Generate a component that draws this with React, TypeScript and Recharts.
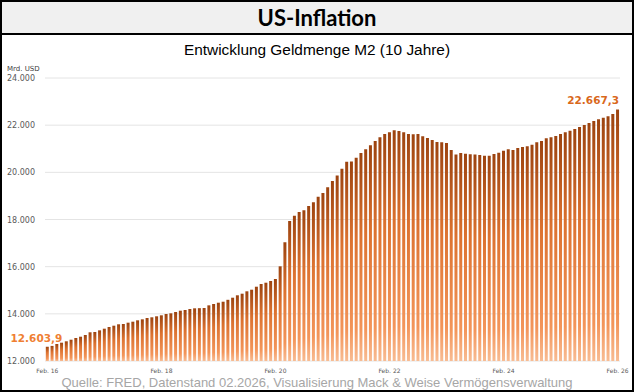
import React from 'react'
import { BarChart, Bar, XAxis, YAxis, CartesianGrid, LabelList } from 'recharts'

// Geldmenge M2 in Mrd. USD, monatlich, Feb. 2016 bis Feb. 2026
const m2_2016 = [12603.9, 12640, 12720, 12776, 12835, 12903, 12975, 13030, 13102, 13217, 13230] // Feb–Dez
const m2_2017 = [13300, 13370, 13442, 13497, 13556, 13570, 13625, 13667, 13725, 13767, 13823, 13853]
const m2_2018 = [13895, 13937, 13993, 14022, 14078, 14133, 14162, 14205, 14234, 14240, 14247, 14360]
const m2_2019 = [14417, 14472, 14514, 14595, 14684, 14786, 14854, 14955, 15023, 15150, 15265, 15320]
const m2_2020 = [15392, 15477, 16015, 17033, 17936, 18161, 18318, 18390, 18572, 18729, 18966, 19123]
const m2_2021 = [19365, 19632, 19865, 20154, 20450, 20460, 20620, 20819, 20976, 21146, 21328, 21485]
const m2_2022 = [21625, 21697, 21782, 21752, 21697, 21625, 21620, 21625, 21527, 21455, 21370, 21286]
const m2_2023 = [21273, 21243, 20946, 20756, 20819, 20790, 20764, 20760, 20734, 20705, 20700, 20777]
const m2_2024 = [20832, 20917, 20976, 20946, 21031, 21074, 21103, 21171, 21273, 21328, 21442, 21485]
const m2_2025 = [21540, 21625, 21697, 21765, 21837, 21922, 22006, 22091, 22176, 22248, 22316, 22375]
const m2_2026 = [22473, 22667.3] // Jan–Feb

const monthNames = ['Jan.', 'Feb.', 'Mär.', 'Apr.', 'Mai', 'Jun.', 'Jul.', 'Aug.', 'Sep.', 'Okt.', 'Nov.', 'Dez.']
const xTickLabels = ['Feb. 16', 'Feb. 18', 'Feb. 20', 'Feb. 22', 'Feb. 24', 'Feb. 26']
const yTicks = [12000, 14000, 16000, 18000, 20000, 22000, 24000]

const values = [
  ...m2_2016, ...m2_2017, ...m2_2018, ...m2_2019, ...m2_2020, ...m2_2021,
  ...m2_2022, ...m2_2023, ...m2_2024, ...m2_2025, ...m2_2026,
]

// Monatsachse ab Feb. 2016
const data = values.map((m2, i) => {
  const mIdx = (1 + i) % 12
  const year = 16 + Math.floor((1 + i) / 12)
  return { monat: `${monthNames[mIdx]} ${year}`, m2 }
})

const fmtNum = (v: number, dec = 0) =>
  v.toLocaleString('de-DE', { minimumFractionDigits: dec, maximumFractionDigits: dec })

const YTick = (props: any) => {
  const { y, payload } = props
  return (
    <text x={7} y={y} dy={3} textAnchor="start" fontSize={8} fill="#595959" fontFamily="DejaVu Sans">
      {fmtNum(payload.value)}
    </text>
  )
}

const XTick = (props: any) => {
  const { x, y, payload } = props
  return (
    <text x={x} y={y} dy={4} textAnchor="middle" fontSize={6} fill="#595959" fontFamily="DejaVu Sans">
      {payload.value}
    </text>
  )
}

const ValueLabel = (props: any) => {
  const { x, y, width, value, index } = props
  const last = values.length - 1
  if (index !== 0 && index !== last) return null
  const ax = index === 0 ? x + width / 2 + 15 : x + width
  return (
    <text
      x={ax}
      y={y - 8}
      textAnchor="end"
      dominantBaseline="middle"
      fontSize={10.5}
      fontWeight="bold"
      fontFamily="DejaVu Sans"
      fill={index === 0 ? '#ef7f33' : '#d9681c'}
    >
      {fmtNum(value, 1)}
    </text>
  )
}

export default function App() {
  return (
    <div
      style={{
        position: 'absolute',
        top: 0,
        left: 0,
        width: 634,
        height: 392,
        boxSizing: 'border-box',
        border: '2px solid #000',
        background: '#fff',
        overflow: 'hidden',
      }}
    >
      <div
        style={{
          height: 31,
          background: '#f0f0f0',
          borderBottom: '2px solid #000',
          textAlign: 'center',
          fontFamily: 'Lato, sans-serif',
          fontWeight: 'bold',
          fontSize: 22,
          lineHeight: '31px',
          color: '#000',
        }}
      >
        US-Inflation
      </div>
      <div
        style={{
          position: 'absolute',
          top: 39,
          left: 0,
          width: 630,
          textAlign: 'center',
          fontFamily: 'Liberation Sans, Arial, sans-serif',
          fontSize: 15.4,
          color: '#000',
        }}
      >
        Entwicklung Geldmenge M2 (10 Jahre)
      </div>
      <div
        style={{
          position: 'absolute',
          top: 63,
          left: 5,
          fontFamily: 'DejaVu Sans',
          fontSize: 7,
          color: '#404040',
        }}
      >
        Mrd. USD
      </div>
      <div style={{ position: 'absolute', top: -2, left: -2 }}>
        <BarChart
          width={634}
          height={392}
          data={data}
          margin={{ top: 78, right: 14, left: 0, bottom: 0 }}
          barCategoryGap={0.8}
        >
          <defs>
            <linearGradient id="m2Grad" x1="0" y1="0" x2="0" y2="1">
              <stop offset="0%" stopColor="#9c430f" />
              <stop offset="40%" stopColor="#dc7230" />
              <stop offset="85%" stopColor="#f3955a" />
              <stop offset="100%" stopColor="#f8bc93" />
            </linearGradient>
          </defs>
          <CartesianGrid vertical={false} stroke="#e4e4e4" />
          <XAxis
            dataKey="monat"
            ticks={xTickLabels}
            interval={0}
            tick={<XTick />}
            axisLine={false}
            tickLine={false}
            height={31}
          />
          <YAxis
            domain={[12000, 24000]}
            ticks={yTicks}
            allowDataOverflow
            tick={<YTick />}
            axisLine={false}
            tickLine={false}
            width={45}
          />
          <Bar dataKey="m2" fill="url(#m2Grad)" isAnimationActive={false}>
            <LabelList dataKey="m2" content={<ValueLabel />} />
          </Bar>
        </BarChart>
      </div>
      <div
        style={{
          position: 'absolute',
          top: 373,
          left: 0,
          width: 630,
          textAlign: 'center',
          fontFamily: 'Liberation Sans, Arial, sans-serif',
          fontSize: 13,
          color: '#a6a6a6',
          whiteSpace: 'nowrap',
        }}
      >
        Quelle: FRED, Datenstand 02.2026, Visualisierung Mack &amp; Weise Vermögensverwaltung
      </div>
    </div>
  )
}
